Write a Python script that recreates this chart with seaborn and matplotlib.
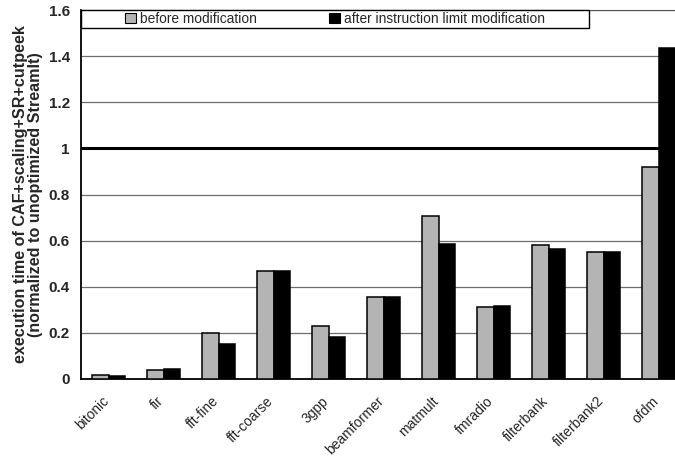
import matplotlib
matplotlib.use("Agg")
import matplotlib.pyplot as plt
from matplotlib.patches import Rectangle, Patch
from matplotlib.ticker import FixedLocator
from matplotlib.transforms import ScaledTranslation
import seaborn as sns
import pandas as pd

benchmarks = ["bitonic", "fir", "fft-fine", "fft-coarse", "3gpp", "beamformer",
              "matmult", "fmradio", "filterbank", "filterbank2", "ofdm"]
before_mod = [0.018, 0.040, 0.198, 0.470, 0.231, 0.355, 0.708, 0.314, 0.581, 0.549, 0.921]
after_mod = [0.013, 0.045, 0.150, 0.470, 0.183, 0.357, 0.587, 0.316, 0.562, 0.549, 1.437]
series_names = ["before modification", "after instruction limit modification"]
y_ticks = [0, 0.2, 0.4, 0.6, 0.8, 1, 1.2, 1.4, 1.6]
y_tick_labels = ["0", "0.2", "0.4", "0.6", "0.8", "1", "1.2", "1.4", "1.6"]

df = pd.DataFrame({
    "benchmark": benchmarks * 2,
    "value": before_mod + after_mod,
    "series": [series_names[0]] * len(benchmarks) + [series_names[1]] * len(benchmarks),
})

sns.set_theme(style="white")
plt.rcParams["font.family"] = ["Liberation Sans", "DejaVu Sans"]

W, H = 675, 457
fig = plt.figure(figsize=(W / 100, H / 100), dpi=100)
left_px, right_px, top_px, bottom_px = 81, 686, 10, 379
ax = fig.add_axes([left_px / W, 1 - bottom_px / H,
                   (right_px - left_px) / W, (bottom_px - top_px) / H])

palette = {series_names[0]: "#b4b4b4", series_names[1]: "#000000"}
sns.barplot(data=df, x="benchmark", y="value", hue="series", palette=palette,
            width=0.6, gap=0, edgecolor="black", linewidth=1.1,
            saturation=1, legend=False, ax=ax, zorder=3)

ax.set_xlim(-0.5, len(benchmarks) - 0.5)
ax.set_ylim(0, 1.6)

# gridlines, with the 1.0 reference line drawn heavy
for t in y_ticks[1:]:
    if t == 1:
        ax.axhline(t, color="black", linewidth=2.2, zorder=4)
    else:
        ax.axhline(t, color="#6e6e6e", linewidth=0.9, zorder=1)

ax.set_yticks(y_ticks)
ax.set_yticklabels(y_tick_labels, fontsize=11, fontweight="bold")
ax.tick_params(axis="y", length=0, pad=8)

ax.set_xticks(range(len(benchmarks)))
ax.set_xticklabels(benchmarks, rotation=45, ha="right", va="top",
                   rotation_mode="anchor", fontsize=10)
ax.tick_params(axis="x", which="major", length=0, pad=10)
shift = ScaledTranslation(-0.07, -0.01, fig.dpi_scale_trans)
for lab in ax.get_xticklabels():
    lab.set_transform(lab.get_transform() + shift)
ax.xaxis.set_minor_locator(FixedLocator([i + 0.5 for i in range(len(benchmarks) - 1)]))
ax.tick_params(axis="x", which="minor", length=4, width=1, color="black", direction="out")

ax.set_xlabel("")
ax.set_ylabel("execution time of CAF+scaling+SR+cutpeek\n(normalized to unoptimized StreamIt)",
              fontsize=11.6, fontweight="bold", linespacing=1.0, labelpad=4)

for s in ["left", "bottom"]:
    ax.spines[s].set_color("black")
    ax.spines[s].set_linewidth(1.3)
ax.spines["right"].set_visible(False)
ax.spines["top"].set_color("#555555")
ax.spines["top"].set_linestyle((0, (1, 1)))
ax.spines["top"].set_linewidth(0.8)

# legend frame across the top of the plot area
leg_w = (589 - left_px) / (right_px - left_px)
leg_h = 18 / (bottom_px - top_px)
ax.add_patch(Rectangle((0, 1 - leg_h), leg_w, leg_h, transform=ax.transAxes,
                       facecolor="white", edgecolor="black", linewidth=1.0,
                       zorder=5, clip_on=False))
handles = [Patch(facecolor=palette[s], edgecolor="black", linewidth=0.8)
           for s in series_names]
leg = ax.legend(handles, series_names, loc="center", ncol=2, frameon=False,
                bbox_to_anchor=(leg_w / 2, 1 - leg_h / 2), fontsize=9.9,
                handlelength=0.8, handleheight=0.8, handletextpad=0.3,
                columnspacing=5.3, borderpad=0, borderaxespad=0)
leg.set_zorder(6)

fig.savefig("out.png", dpi=100)
